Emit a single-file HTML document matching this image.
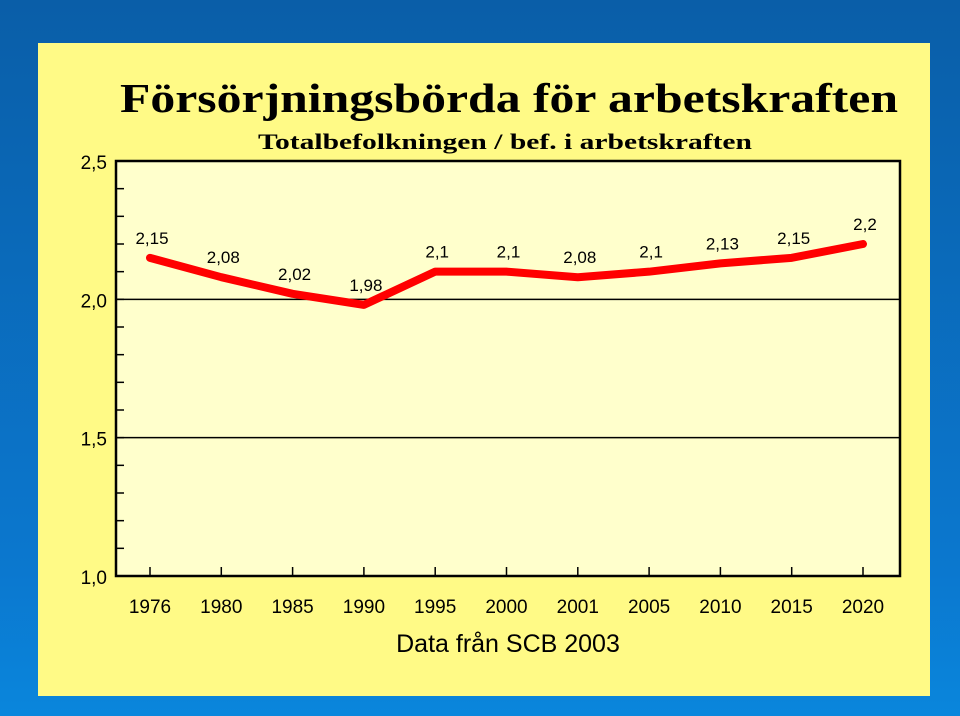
<!DOCTYPE html>
<html><head><meta charset="utf-8"><style>
html,body{margin:0;padding:0;width:960px;height:716px;overflow:hidden}
body{background:linear-gradient(#0a5ea8,#0b78cf 80%,#0a86dc)}
svg{display:block}
</style></head><body>
<svg width="960" height="716">
<rect x="38" y="43" width="892" height="653" fill="#fffa86"/>
<text x="509" y="112" text-anchor="middle" font-family="Liberation Serif, serif" font-weight="bold" font-size="41" textLength="778" lengthAdjust="spacingAndGlyphs">Försörjningsbörda för arbetskraften</text>
<text x="505" y="149" text-anchor="middle" font-family="Liberation Serif, serif" font-weight="bold" font-size="22" textLength="494" lengthAdjust="spacingAndGlyphs">Totalbefolkningen / bef. i arbetskraften</text>
<rect x="116" y="161" width="784" height="415" fill="#ffffcc"/>
<g id="grid"></g>
<g id="axes"></g>
<g id="series"></g>
<g id="labels"></g>
<rect x="116" y="161" width="784" height="415" fill="none" stroke="#000" stroke-width="2.5"/>
<text x="508" y="652" text-anchor="middle" font-family="Liberation Sans, sans-serif" font-size="25">Data från SCB 2003</text>
</svg>
<script>
const categories = ["1976","1980","1985","1990","1995","2000","2001","2005","2010","2015","2020"];
const values = [2.15,2.08,2.02,1.98,2.1,2.1,2.08,2.1,2.13,2.15,2.2];
const valueLabels = ["2,15","2,08","2,02","1,98","2,1","2,1","2,08","2,1","2,13","2,15","2,2"];
const yTicks = [1.0,1.5,2.0,2.5];
const yTickLabels = ["1,0","1,5","2,0","2,5"];
const NS="http://www.w3.org/2000/svg";
const x0=116,x1=900,yTop=161,yBot=576,yMin=1,yMax=2.5;
const step=(863-150)/(categories.length-1);
const xs=i=>150+i*step;
const ys=v=>yBot-(v-yMin)/(yMax-yMin)*(yBot-yTop);
function mk(tag,attrs,parent,txt){const e=document.createElementNS(NS,tag);for(const k in attrs)e.setAttribute(k,attrs[k]);if(txt!==undefined)e.textContent=txt;document.getElementById(parent).appendChild(e);return e;}
// gridlines and y labels
yTicks.forEach((v,i)=>{
  if(v>yMin&&v<yMax){const g=mk('line',{x1:x0,x2:x1,y1:ys(v),y2:ys(v),stroke:'#000','stroke-width':1.5},'grid');
  
  }
  const t=mk('text',{x:107,y:ys(v)+8,'text-anchor':'end','font-family':'Liberation Sans, sans-serif','font-size':19},'axes',yTickLabels[i]);
  
  
});
// minor y ticks
for(let k=1;k<15;k++){const v=yMin+k*0.1;const l=mk('line',{x1:x0,x2:x0+8,y1:ys(v),y2:ys(v),stroke:'#000','stroke-width':1.5},'axes');
  
  }
// x ticks and labels
categories.forEach((c,i)=>{
  const l=mk('line',{x1:xs(i),x2:xs(i),y1:yBot,y2:yBot-9,stroke:'#000','stroke-width':1.5},'axes');
  
  
  const t=mk('text',{x:xs(i),y:613,'text-anchor':'middle','font-family':'Liberation Sans, sans-serif','font-size':19},'axes',c);
  
  
});
// line
const pts=values.map((v,i)=>xs(i)+','+ys(v)).join(' ');
const pl=mk('polyline',{points:pts,fill:'none',stroke:'#ff0000','stroke-width':8,'stroke-linejoin':'round','stroke-linecap':'round'},'series');


values.forEach((v,i)=>{
  const t=mk('text',{x:xs(i)+2,y:ys(v)-14,'text-anchor':'middle','font-family':'Liberation Sans, sans-serif','font-size':17},'labels',valueLabels[i]);
  
  
});
</script>
</body></html>
